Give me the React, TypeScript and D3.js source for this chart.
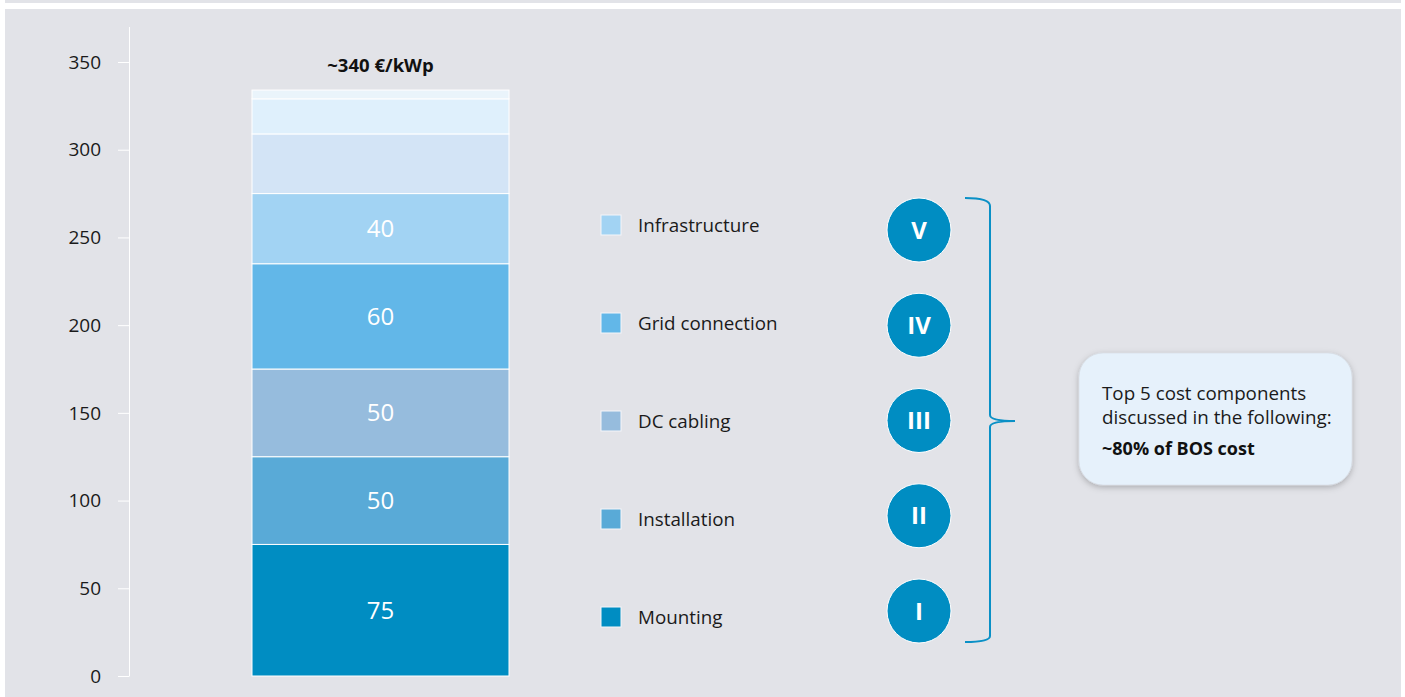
import { scaleLinear, scalePoint, cumsum } from 'd3'

const categories = ['Mounting', 'Installation', 'DC cabling', 'Grid connection', 'Infrastructure']
const values = [75, 50, 50, 60, 40]
const otherValues = [34, 20, 5]
const romans = ['I', 'II', 'III', 'IV', 'V']
const yTicks = [0, 50, 100, 150, 200, 250, 300, 350]
const totalLabel = '~340 €/kWp'
const calloutLines = ['Top 5 cost components', 'discussed in the following:']
const calloutBold = '~80% of BOS cost'

const colors = ['#008dc2', '#59aad7', '#96bcdd', '#62b7e8', '#a2d3f3']
const otherColors = ['#d3e4f6', '#dff0fc', '#eaf4fb']

const width = 1405
const height = 697
const font = '"Open Sans", sans-serif'

const y = scaleLinear().domain([0, 350]).range([676, 62])
const barX0 = 252
const barX1 = 509

const legendY = scalePoint<string>().domain(categories).range([617, 225])
const circleY = scalePoint<string>().domain(romans).range([611, 230])

function App() {
  const allValues = [...values, ...otherValues]
  const allColors = [...colors, ...otherColors]
  const tops = Array.from(cumsum(allValues))
  const segs = allValues.map((v, i) => ({
    v,
    y0: i === 0 ? 0 : tops[i - 1],
    y1: tops[i],
    color: allColors[i],
    label: i < values.length ? String(v) : null,
  }))
  const total = tops[tops.length - 1]

  const bTop = 198
  const bBot = 642
  const bMid = 421
  const bracket = `M965,${bTop} Q990,${bTop} 990,${bTop + 8} L990,${bMid - 6} Q990,${bMid} 1015,${bMid} Q990,${bMid} 990,${bMid + 6} L990,${bBot - 6} Q990,${bBot} 965,${bBot}`

  return (
    <svg width={width} height={height} style={{ position: 'absolute', left: 0, top: 0 }} fontFamily={font}>
      <defs>
        <filter id="shadow" x="-20%" y="-20%" width="140%" height="150%">
          <feDropShadow dx="0" dy="2" stdDeviation="3" floodColor="#000" floodOpacity="0.25" />
        </filter>
      </defs>
      <rect x={0} y={0} width={width} height={height} fill="#fff" />
      <rect x={5} y={0} width={1396} height={3} fill="#e2e3e8" />
      <rect x={5} y={9} width={1396} height={height - 9} fill="#e2e3e8" />

      {/* y axis */}
      <line x1={129.5} x2={129.5} y1={27} y2={y(0)} stroke="#fff" strokeWidth={1} />
      {yTicks.map(t => (
        <g key={t} transform={`translate(0,${y(t)})`}>
          <line x1={118} x2={129.5} y1={0.5} y2={0.5} stroke="#fff" />
          <text x={101} y={0} dy="0.35em" textAnchor="end" fontSize={19} fill="#1a1a1a">{t}</text>
        </g>
      ))}

      {/* stacked bar */}
      {segs.map((s, i) => (
        <g key={i}>
          <rect x={barX0} y={y(s.y1)} width={barX1 - barX0} height={y(s.y0) - y(s.y1)}
            fill={s.color} stroke="#fff" strokeWidth={1} />
          {s.label && (
            <text x={(barX0 + barX1) / 2} y={(y(s.y0) + y(s.y1)) / 2} dy="0.35em" textAnchor="middle"
              fontSize={24} fill="#fff">{s.label}</text>
          )}
        </g>
      ))}
      <text x={(barX0 + barX1) / 2} y={y(total) - 18} textAnchor="middle" fontSize={18.5} fontWeight="bold" fill="#111">{totalLabel}</text>

      {/* legend */}
      {categories.map((c, i) => (
        <g key={c} transform={`translate(601,${legendY(c)})`}>
          <rect x={0} y={-10} width={20} height={20} fill={colors[i]} stroke="#f4f6f9" strokeWidth={1} />
          <text x={37} y={0} dy="0.35em" fontSize={18.8} fill="#1a1a1a">{c}</text>
        </g>
      ))}

      {/* numerals */}
      {romans.map(r => (
        <g key={r} transform={`translate(919,${circleY(r)})`}>
          <circle r={32} fill="#008dc2" stroke="#fff" strokeWidth={1} />
          <text dy="0.36em" textAnchor="middle" fontSize={24} fontWeight="bold" fill="#fff">{r}</text>
        </g>
      ))}

      {/* bracket */}
      <path d={bracket} fill="none" stroke="#0a90c6" strokeWidth={2} />

      {/* callout */}
      <rect x={1079} y={353} width={273} height={132} rx={24} fill="#e6f1fb" stroke="#d0d6de" strokeWidth={0.5} filter="url(#shadow)" />
      {calloutLines.map((l, i) => (
        <text key={i} x={1102} y={400 + i * 24} fontSize={18.8} fill="#1a1a1a">{l}</text>
      ))}
      <text x={1102} y={455} fontSize={18} fontWeight="bold" fill="#111">{calloutBold}</text>
    </svg>
  )
}

export default App
